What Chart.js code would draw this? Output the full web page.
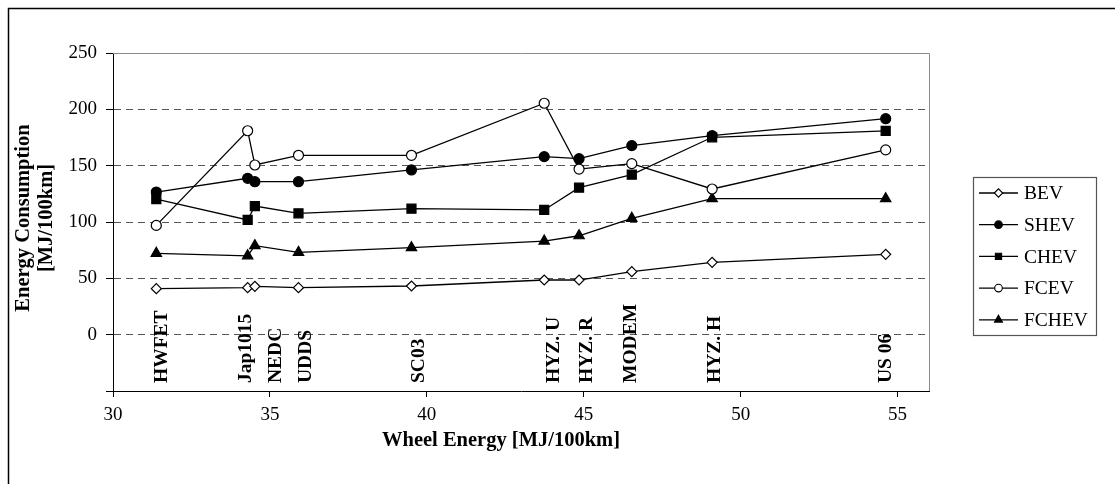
<!DOCTYPE html>
<html>
<head>
<meta charset="utf-8">
<script src="https://cdn.jsdelivr.net/npm/chart.js"></script>
<style>
  html, body { margin: 0; background: #fff; }
  #wrap { position: relative; width: 1115px; height: 484px; }
</style>
</head>
<body>
<div id="wrap"><canvas id="chart"></canvas></div>
<script>
// drive cycles and their wheel energy (x), consumption per vehicle type (y)
const cycles = ["HWFET", "Jap1015", "NEDC", "UDDS", "SC03", "HYZ. U", "HYZ. R", "MODEM", "HYZ. H", "US 06"];
const wheelEnergy = [31.38, 34.29, 34.52, 35.91, 39.51, 43.74, 44.85, 46.53, 49.09, 54.62];
const bev   = [40.8, 41.7, 42.9, 41.7, 43.2, 48.5, 48.5, 55.9, 64.2, 71.3];
const shev  = [126.6, 138.8, 135.8, 135.8, 146.2, 158.0, 156.2, 167.8, 176.6, 191.7];
const chev  = [120.4, 101.8, 114.2, 107.7, 111.8, 110.7, 130.5, 142.0, 175.2, 180.8];
const fcev  = [97.0, 181.0, 150.6, 159.2, 159.2, 205.4, 147.0, 151.8, 129.3, 164.0];
const fchev = [72.2, 70.0, 79.0, 73.0, 77.2, 83.1, 87.8, 103.3, 120.7, 120.7];
const seriesNames = ["BEV", "SHEV", "CHEV", "FCEV", "FCHEV"];
const seriesValues = [bev, shev, chev, fcev, fchev];

const SERIF = "'Liberation Serif', 'Times New Roman', serif";

// marker look per series
const markerStyle = {
  BEV:   { pointStyle: "rectRot",  radius: 5,   fill: "#fff", legendR: 4.2 },
  SHEV:  { pointStyle: "circle",   radius: 5,   fill: "#000", legendR: 3.8 },
  CHEV:  { pointStyle: "rect",     radius: 6.4, fill: "#000", legendR: 4.4 },
  FCEV:  { pointStyle: "circle",   radius: 5,   fill: "#fff", legendR: 3.8 },
  FCHEV: { pointStyle: "triangle", radius: 6,   fill: "#000", legendR: 4.6 }
};

// small pixel nudges for the cycle name labels
const labelNudge = { "HWFET": 5.5, "Jap1015": -2, "NEDC": 21.5, "UDDS": 7, "SC03": 7.5,
                     "HYZ. U": 10, "HYZ. R": 8, "MODEM": -1, "HYZ. H": 2.5, "US 06": 0 };

const datasets = seriesNames.map((name, i) => {
  const m = markerStyle[name];
  return {
    label: name,
    data: wheelEnergy.map((x, j) => ({ x: x, y: seriesValues[i][j] })),
    showLine: true,
    borderColor: "#000",
    borderWidth: 1.3,
    pointStyle: m.pointStyle,
    pointRadius: m.radius,
    pointHoverRadius: m.radius,
    pointBackgroundColor: m.fill,
    pointBorderColor: "#000",
    pointBorderWidth: 1.2
  };
});

const decor = {
  id: "decor",
  beforeDatasetsDraw(chart) {
    const { ctx, chartArea: a } = chart;
    ctx.save();
    ctx.strokeStyle = "#8c8c8c";
    ctx.lineWidth = 1;
    ctx.beginPath();
    ctx.moveTo(a.left, Math.round(a.top) + 0.5);
    ctx.lineTo(Math.round(a.right) + 0.5, Math.round(a.top) + 0.5);
    ctx.lineTo(Math.round(a.right) + 0.5, a.bottom);
    ctx.stroke();
    ctx.restore();
  },
  afterDraw(chart) {
    const { ctx, chartArea: a } = chart;
    const xs = chart.scales.x;
    ctx.save();

    // outer frame
    ctx.strokeStyle = "#000";
    ctx.lineWidth = 1.5;
    ctx.strokeRect(8.5, 8.5, 1200, 600);

    ctx.fillStyle = "#000";

    // y title
    ctx.font = "bold 20.5px " + SERIF;
    ctx.textAlign = "center";
    ctx.textBaseline = "middle";
    ctx.save();
    ctx.translate(23.5, 218);
    ctx.rotate(-Math.PI / 2);
    ctx.fillText("Energy Consumption", 0, 0);
    ctx.fillText("[MJ/100km]", 0, 23.5);
    ctx.restore();

    // x title
    ctx.fillText("Wheel Energy [MJ/100km]", 501, 441);

    // cycle names
    ctx.font = "bold 19.5px " + SERIF;
    ctx.textAlign = "left";
    cycles.forEach((c, i) => {
      const px = xs.getPixelForValue(wheelEnergy[i]) + labelNudge[c];
      ctx.save();
      ctx.translate(px, a.bottom - 8);
      ctx.rotate(-Math.PI / 2);
      ctx.fillText(c, 0, 0);
      ctx.restore();
    });

    // legend
    const lx = 973.5, ly = 177.5, lw = 123, lh = 158;
    ctx.fillStyle = "#fff";
    ctx.fillRect(lx, ly, lw, lh);
    ctx.strokeStyle = "#555";
    ctx.lineWidth = 1.2;
    ctx.strokeRect(lx, ly, lw, lh);
    ctx.font = "19.5px " + SERIF;
    ctx.textBaseline = "middle";
    seriesNames.forEach((name, i) => {
      const y = 193 + i * 31.7;
      const m = markerStyle[name];
      ctx.strokeStyle = "#000";
      ctx.lineWidth = 1.3;
      ctx.beginPath();
      ctx.moveTo(979, y);
      ctx.lineTo(1018, y);
      ctx.stroke();
      ctx.fillStyle = m.fill;
      ctx.lineWidth = 1.1;
      Chart.helpers.drawPoint(ctx, { pointStyle: m.pointStyle, radius: m.legendR, rotation: 0, borderWidth: 1.1 }, 998.5, y);
      ctx.fillStyle = "#000";
      ctx.fillText(name, 1024, y + 1);
    });

    ctx.restore();
  }
};

new Chart(document.getElementById("chart"), {
  type: "scatter",
  data: { datasets: datasets },
  options: {
    responsive: true,
    maintainAspectRatio: false,
    animation: false,
    layout: { padding: { left: 0, top: 53, right: 186, bottom: 0 } },
    plugins: {
      legend: { display: false },
      tooltip: { enabled: false }
    },
    scales: {
      x: {
        type: "linear",
        min: 30,
        max: 56,
        afterFit: s => { s.height = 93; },
        ticks: {
          stepSize: 5,
          includeBounds: false,
          autoSkip: false,
          maxRotation: 0,
          padding: 7,
          color: "#000",
          font: { family: SERIF, size: 19 }
        },
        grid: {
          drawOnChartArea: false,
          tickLength: 6,
          tickColor: "#000",
          color: "#000"
        },
        border: { color: "#000", width: 1 }
      },
      y: {
        min: -50,
        max: 250,
        afterFit: s => { s.width = 113; },
        ticks: {
          stepSize: 50,
          padding: 9,
          color: "#000",
          font: { family: SERIF, size: 19 },
          callback: v => (v < 0 ? "" : v)
        },
        grid: {
          color: c => (c.tick && c.tick.value >= 0 && c.tick.value <= 200 ? "#555" : "rgba(0,0,0,0)"),
          tickColor: "#000",
          tickLength: 7,
          tickBorderDash: []
        },
        border: { color: "#000", width: 1, dash: [7, 5] }
      }
    }
  },
  plugins: [decor]
});
</script>
</body>
</html>
